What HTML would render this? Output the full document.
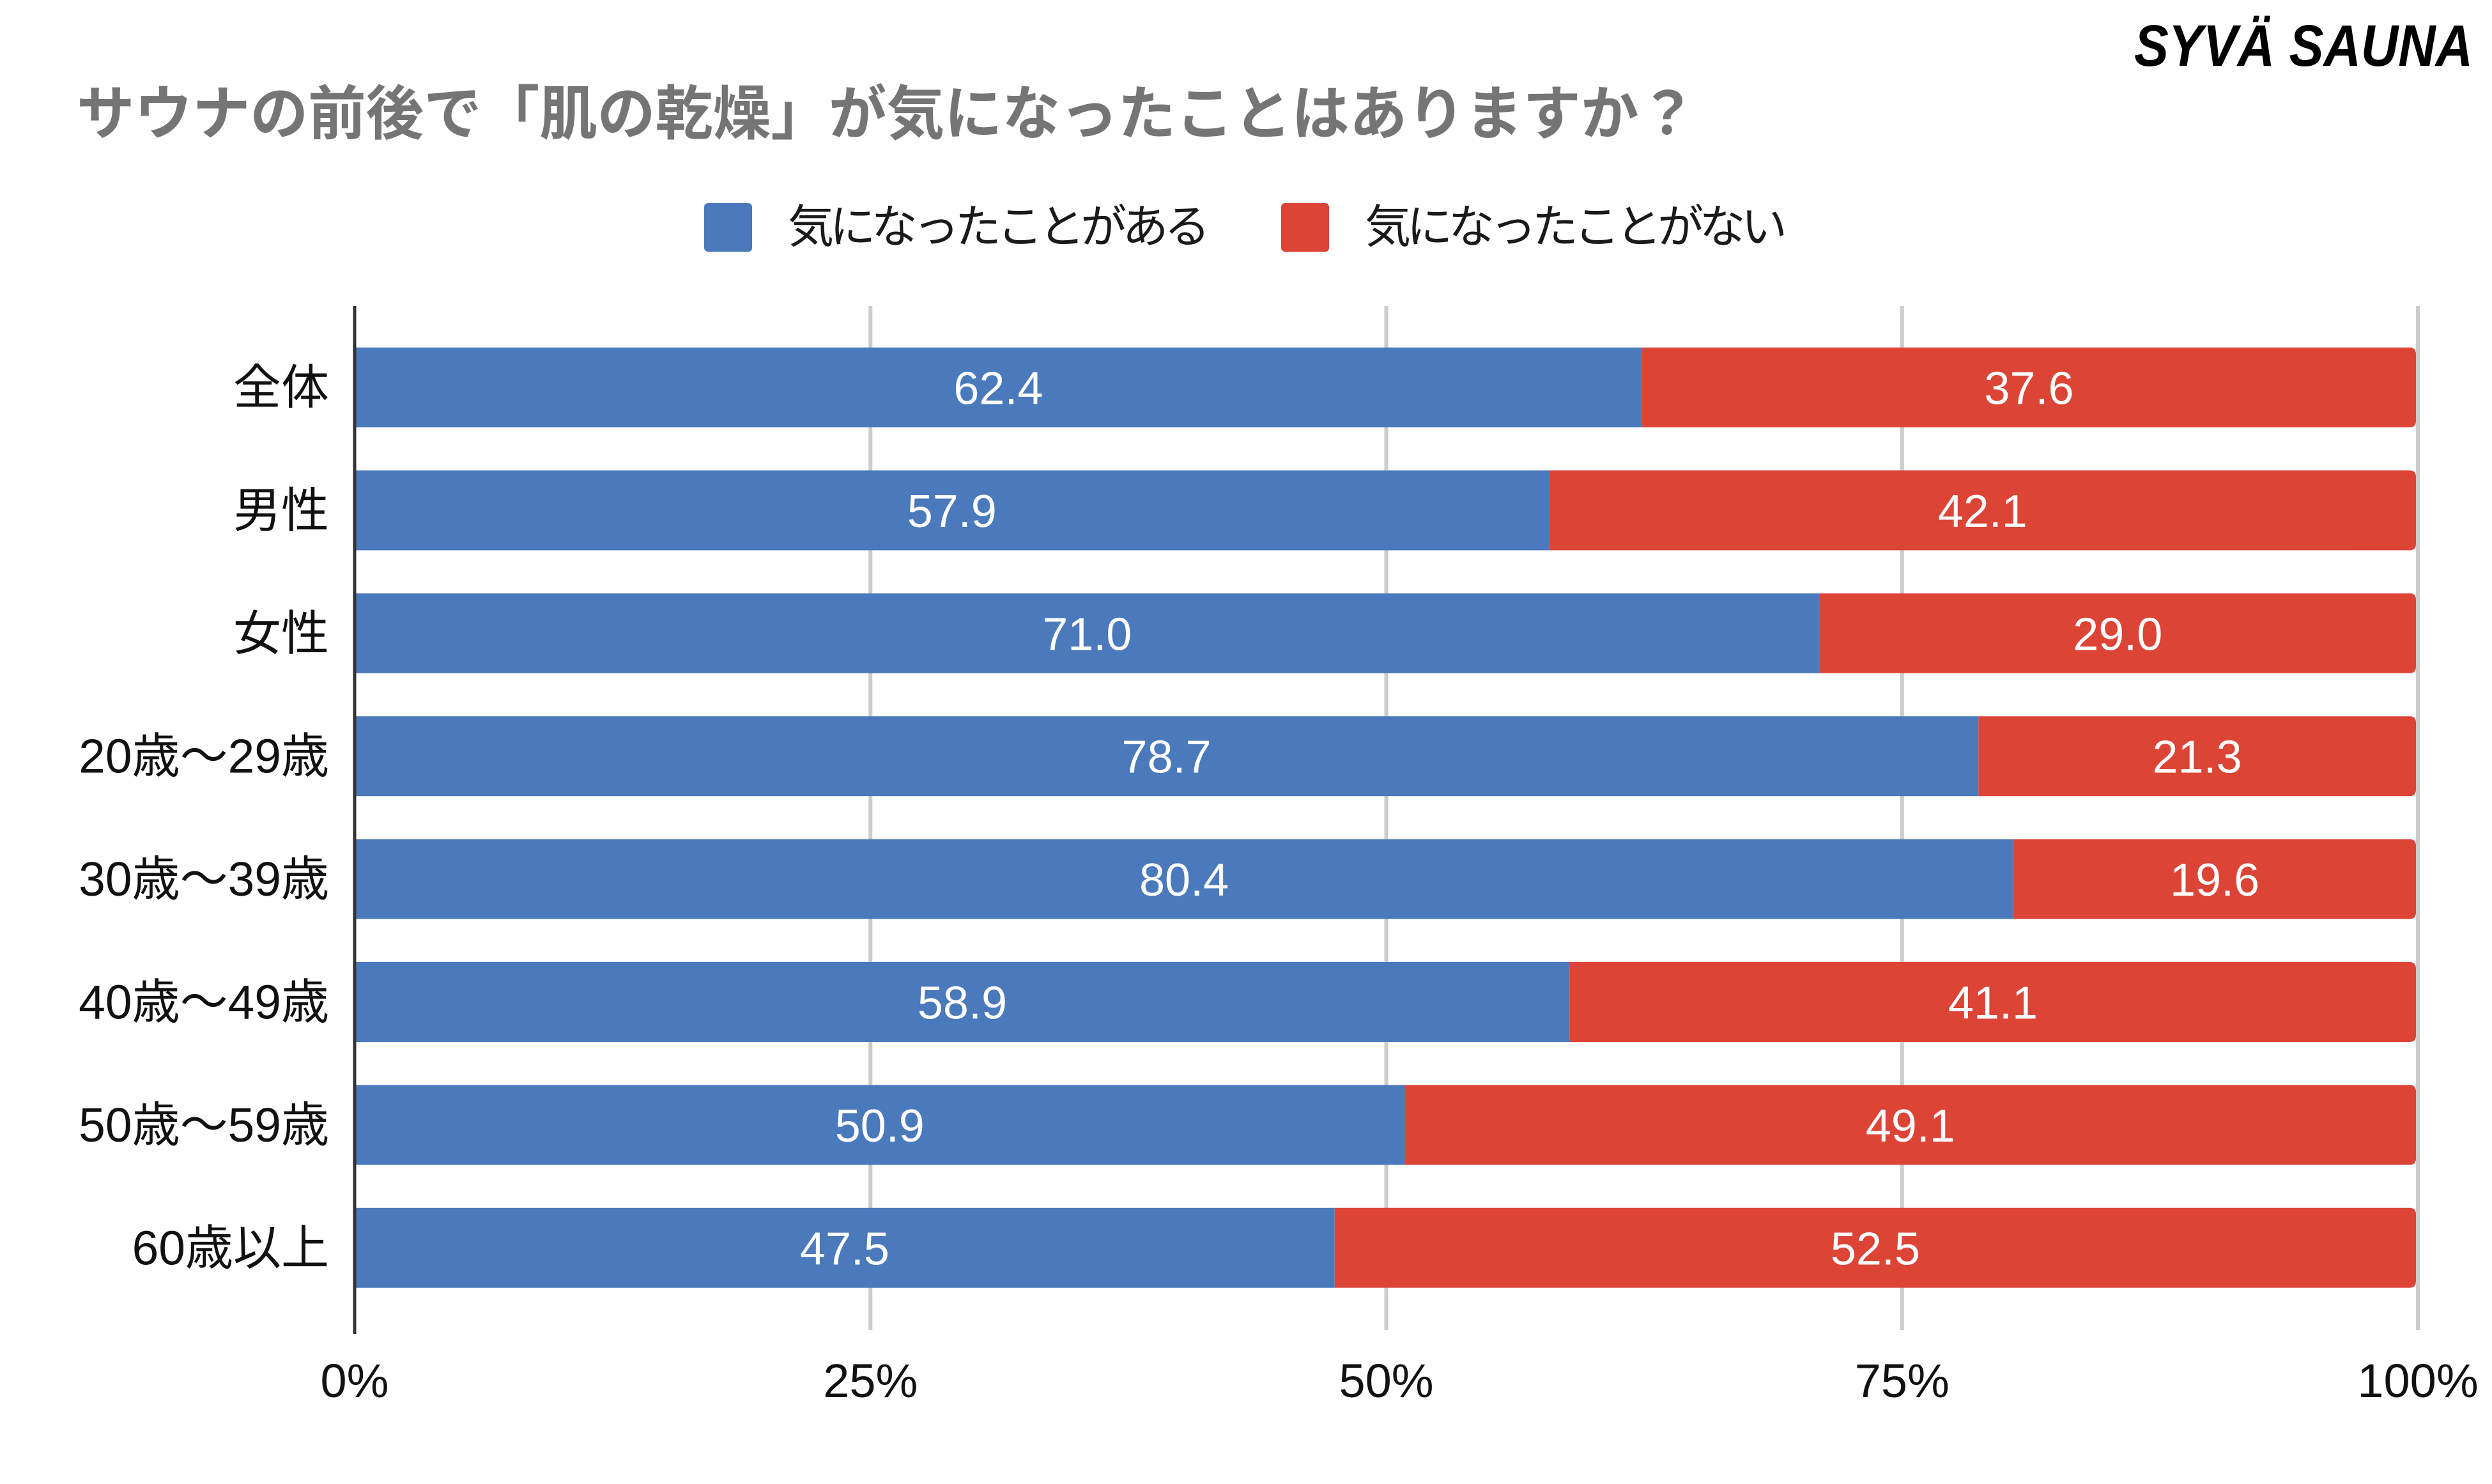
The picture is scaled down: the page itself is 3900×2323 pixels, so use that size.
<!DOCTYPE html>
<html><head><meta charset="utf-8"><style>
html,body{margin:0;padding:0;background:#fff;}
svg{display:block;}
text{font-family:"Liberation Sans","Noto Sans CJK JP",sans-serif;}
</style></head><body>
<svg id="chart" width="3900" height="2323" viewBox="0 0 3900 2323" xmlns="http://www.w3.org/2000/svg">
<text x="3340" y="103" font-size="92" font-weight="bold" font-style="italic" fill="#000" textLength="530" lengthAdjust="spacingAndGlyphs">SYVÄ SAUNA</text>
<text x="120" y="210" font-size="92" font-weight="bold" fill="#757575" textLength="2535" lengthAdjust="spacingAndGlyphs">サウナの前後で「肌の乾燥」が気になったことはありますか？</text>
<g>
<rect x="1102" y="318" width="75" height="76" rx="6" fill="#4a79bc"/>
<text x="1233" y="380" font-size="72" fill="#1a1a1a" textLength="661">気になったことがある</text>
<rect x="2005" y="318" width="75" height="76" rx="6" fill="#dc4436"/>
<text x="2136" y="380" font-size="72" fill="#1a1a1a" textLength="661">気になったことがない</text>
</g>
<g id="grid"></g><g id="bars"></g><g id="labels"></g>
</svg>
<script>
const categories=["全体","男性","女性","20歳～29歳","30歳～39歳","40歳～49歳","50歳～59歳","60歳以上"];
const yesValues=[62.4,57.9,71.0,78.7,80.4,58.9,50.9,47.5];
const noValues=[37.6,42.1,29.0,21.3,19.6,41.1,49.1,52.5];
const tickValues=[0,25,50,75,100];
const tickLabels=["0%","25%","50%","75%","100%"];
const NS="http://www.w3.org/2000/svg";
const X0=555,X1=3784,Y0=544,PITCH=192.4,BH=125;
const xs=v=>X0+(X1-X0)*v/100;
const yb=i=>Y0+i*PITCH;
function mk(tag,attrs,parent){const e=document.createElementNS(NS,tag);for(const k in attrs)e.setAttribute(k,attrs[k]);parent.appendChild(e);return e;}
const grid=document.getElementById('grid'),bars=document.getElementById('bars'),labels=document.getElementById('labels');
tickValues.forEach((t,i)=>{
 if(t>0){const g=mk('line',{x1:xs(t),x2:xs(t),y1:479,y2:2082,stroke:'#cccccc','stroke-width':6},grid);
 
 }
 const tl=mk('text',{x:xs(t),y:2187,'text-anchor':'middle','font-size':74,fill:'#111'},labels);
 tl.textContent=tickLabels[i];
 
 
});
categories.forEach((c,i)=>{
 const y=yb(i);
 const total=yesValues[i]+noValues[i];
 const xm=xs(yesValues[i]/total*100);
 const XE=X1-3,R=10;
 const r1=mk('rect',{x:X0,y:y,width:xm-X0,height:BH,fill:'#4a79bc'},bars);
 
 
 const r2=mk('path',{d:`M${xm},${y}H${XE-R}Q${XE},${y} ${XE},${y+R}V${y+BH-R}Q${XE},${y+BH} ${XE-R},${y+BH}H${xm}Z`,fill:'#dc4436'},bars);
 
 
 const t1=mk('text',{x:(X0+xm)/2,y:y+BH/2+26,'text-anchor':'middle','font-size':72,fill:'#fff'},labels);
 t1.textContent=yesValues[i].toFixed(1);
 
 
 const t2=mk('text',{x:(xm+XE)/2,y:y+BH/2+26,'text-anchor':'middle','font-size':72,fill:'#fff'},labels);
 t2.textContent=noValues[i].toFixed(1);
 
 
 const cl=mk('text',{x:515,y:y+BH/2+26,'text-anchor':'end','font-size':75,fill:'#111'},labels);
 cl.textContent=c;
 
 
});
const ax=mk('line',{x1:555,x2:555,y1:479,y2:2088,stroke:'#333','stroke-width':5},labels);


</script>
</body></html>
